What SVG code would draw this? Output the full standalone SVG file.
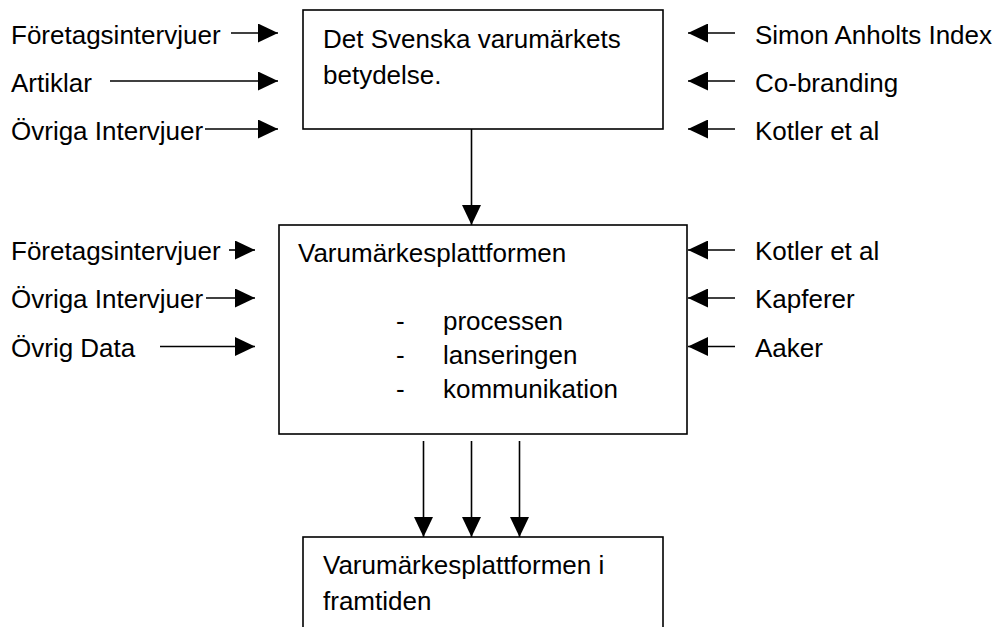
<svg xmlns="http://www.w3.org/2000/svg" width="1001" height="627" viewBox="0 0 1001 627">
<style>
text{font-family:"Liberation Sans",Arial,sans-serif;font-size:26px;fill:#000}
.box{fill:#fff;stroke:#000;stroke-width:1.6}
.ln{stroke:#000;stroke-width:1.6;fill:none}
</style>
<defs>
<marker id="ah" markerUnits="userSpaceOnUse" markerWidth="20" markerHeight="19" refX="20" refY="9.5" orient="auto" viewBox="0 0 20 19">
<path d="M0,0 L20,9.5 L0,19 z" fill="#000"/>
</marker>
</defs>
<rect width="1001" height="627" fill="#fff"/>
<g id="connectors">
<line class="ln" x1="231" y1="33" x2="278" y2="33" marker-end="url(#ah)"/>
<line class="ln" x1="110" y1="81" x2="278" y2="81" marker-end="url(#ah)"/>
<line class="ln" x1="205" y1="129" x2="278" y2="129" marker-end="url(#ah)"/>
<line class="ln" x1="735" y1="33" x2="688" y2="33" marker-end="url(#ah)"/>
<line class="ln" x1="735" y1="81" x2="688" y2="81" marker-end="url(#ah)"/>
<line class="ln" x1="735" y1="129" x2="688" y2="129" marker-end="url(#ah)"/>
<line class="ln" x1="471.5" y1="129" x2="471.5" y2="225" marker-end="url(#ah)"/>
<line class="ln" x1="229" y1="250" x2="255" y2="250" marker-end="url(#ah)"/>
<line class="ln" x1="206" y1="298" x2="255" y2="298" marker-end="url(#ah)"/>
<line class="ln" x1="160" y1="346.5" x2="255" y2="346.5" marker-end="url(#ah)"/>
<line class="ln" x1="735" y1="250" x2="688" y2="250" marker-end="url(#ah)"/>
<line class="ln" x1="735" y1="298" x2="688" y2="298" marker-end="url(#ah)"/>
<line class="ln" x1="735" y1="346.5" x2="688" y2="346.5" marker-end="url(#ah)"/>
<line class="ln" x1="423.5" y1="441" x2="423.5" y2="537" marker-end="url(#ah)"/>
<line class="ln" x1="471.5" y1="441" x2="471.5" y2="537" marker-end="url(#ah)"/>
<line class="ln" x1="519.5" y1="441" x2="519.5" y2="537" marker-end="url(#ah)"/>
</g>
<g id="sources1">
<text x="11" y="44">Företagsintervjuer</text>
<text x="11" y="92">Artiklar</text>
<text x="11" y="140">Övriga Intervjuer</text>
<text x="755" y="44">Simon Anholts Index</text>
<text x="755" y="92">Co-branding</text>
<text x="755" y="140">Kotler et al</text>
</g>
<g id="node-betydelse">
<rect class="box" x="303" y="10" width="360" height="119"/>
<text x="323" y="48">Det Svenska varumärkets</text>
<text x="323" y="84">betydelse.</text>
</g>
<g id="sources2">
<text x="11" y="260">Företagsintervjuer</text>
<text x="11" y="308">Övriga Intervjuer</text>
<text x="11" y="357">Övrig Data</text>
<text x="755" y="260">Kotler et al</text>
<text x="755" y="308">Kapferer</text>
<text x="755" y="357">Aaker</text>
</g>
<g id="node-plattformen">
<rect class="box" x="279" y="225" width="408" height="209"/>
<text x="298" y="262">Varumärkesplattformen</text>
<text x="396" y="330">-</text>
<text x="443" y="330">processen</text>
<text x="396" y="364">-</text>
<text x="443" y="364">lanseringen</text>
<text x="396" y="398">-</text>
<text x="443" y="398">kommunikation</text>
</g>
<g id="node-framtiden">
<rect class="box" x="303" y="537" width="360" height="110"/>
<text x="323" y="574">Varumärkesplattformen i</text>
<text x="323" y="610">framtiden</text>
</g>
</svg>
